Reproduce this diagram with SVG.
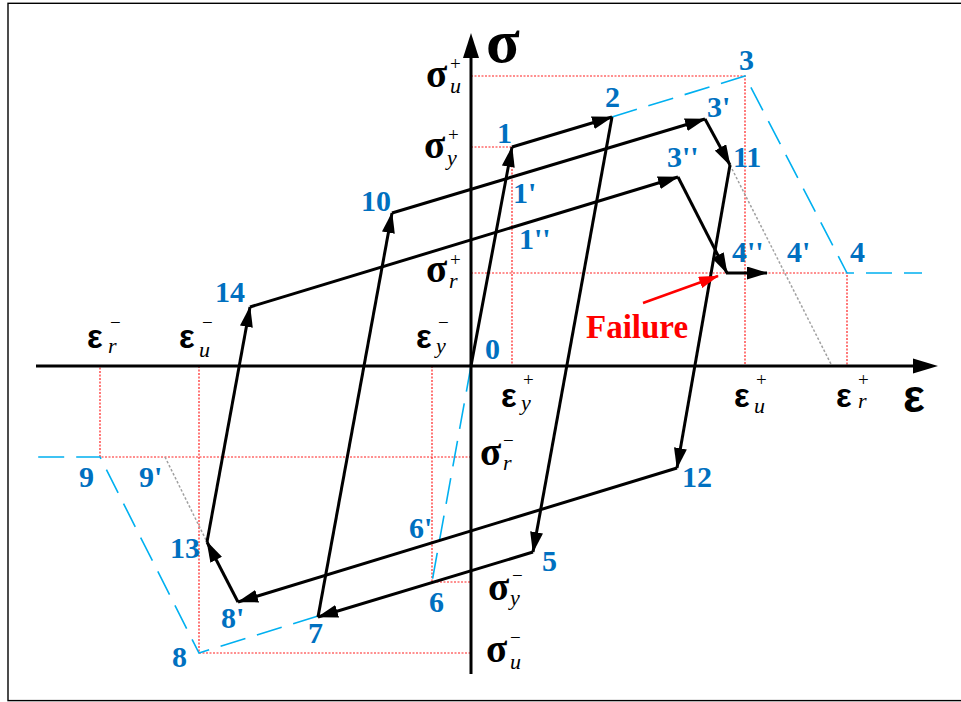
<svg xmlns="http://www.w3.org/2000/svg" width="961" height="702" viewBox="0 0 961 702">
<style>
.lbl{font-family:"Liberation Serif","Times New Roman",serif;font-weight:bold;font-size:30px;fill:#0070C0}
.gk{font-family:"Liberation Serif","Times New Roman",serif;font-weight:bold;font-size:39px;fill:#000}
.ge{font-family:"Liberation Sans",Arial,sans-serif;font-weight:bold;font-size:33px;fill:#000}
.sp{font-family:"Liberation Serif","Times New Roman",serif;font-size:19px;fill:#000}
.sb{font-family:"Liberation Serif","Times New Roman",serif;font-style:italic;font-size:22px;fill:#000}
.ax{font-family:"Liberation Serif","Times New Roman",serif;font-weight:bold;fill:#000}
.red{stroke:#FF2020;stroke-width:1.2;stroke-dasharray:2 1.5;fill:none}
.blue{stroke:#00B0F0;stroke-width:1.6;stroke-dasharray:26 12;fill:none}
.gray{stroke:#A0A0A0;stroke-width:1.5;stroke-dasharray:2.5 2;fill:none}
.path{stroke:#000;stroke-width:3;fill:none;marker-end:url(#ah)}
</style>
<defs>
<marker id="ah" markerUnits="userSpaceOnUse" markerWidth="21" markerHeight="13" refX="20" refY="6.5" orient="auto"><path d="M0,0 L21,6.5 L0,13 z" fill="#000"/></marker>
<marker id="rh" markerUnits="userSpaceOnUse" markerWidth="20" markerHeight="12" refX="19" refY="6" orient="auto"><path d="M0,0 L20,6 L0,12 z" fill="#FF0000"/></marker>
</defs>
<rect x="8" y="3.3" width="960" height="697.3" fill="#fff" stroke="#000" stroke-width="1.4"/>

<g id="guides">
<path class="red" d="M471,76 H745 V366"/>
<path class="red" d="M471,147 H512 V366"/>
<path class="red" d="M471,273 H847 V366"/>
<path class="red" d="M471,457 H100 V366"/>
<path class="red" d="M199,366 V653 H471"/>
<path class="red" d="M432,366 V582 H471"/>
<path class="gray" d="M730,165 L832,366"/>
<path class="gray" d="M165,457 L207,542"/>
</g>

<g id="envelope">
<path class="blue" d="M612,117 L745,76 L847,273 H922"/>
<path class="blue" d="M471,366 L432,582"/>
<path class="blue" d="M318,616 L199,653 L100,457 H37"/>
</g>

<g id="axes">
<line x1="36" y1="366" x2="915" y2="366" stroke="#000" stroke-width="3"/>
<path d="M913,358.5 L938,366 L913,373.5 z" fill="#000"/>
<line x1="471" y1="674" x2="471" y2="56" stroke="#000" stroke-width="3"/>
<path d="M463,58 L471,33 L479,58 z" fill="#000"/>
<text class="ax" x="486" y="62" font-size="62">σ</text>
<text font-family="Liberation Sans,Arial,sans-serif" font-weight="bold" x="903" y="412" font-size="46">ε</text>
</g>

<g id="connectors">
<line class="path" x1="471" y1="366" x2="512" y2="147"/>
<line class="path" x1="512" y1="147" x2="612" y2="117"/>
<line class="path" x1="612" y1="117" x2="533" y2="552"/>
<line class="path" x1="533" y1="552" x2="318" y2="617"/>
<line class="path" x1="318" y1="617" x2="392" y2="213"/>
<line class="path" x1="392" y1="213" x2="705" y2="119"/>
<line class="path" x1="705" y1="119" x2="730" y2="165"/>
<line class="path" x1="730" y1="165" x2="677" y2="468"/>
<line class="path" x1="677" y1="468" x2="238" y2="602"/>
<line class="path" x1="238" y1="602" x2="207" y2="542"/>
<line class="path" x1="207" y1="542" x2="250" y2="307"/>
<line class="path" x1="250" y1="307" x2="678" y2="177"/>
<line class="path" x1="678" y1="177" x2="727" y2="273"/>
<line class="path" x1="726" y1="273" x2="767" y2="273"/>
<line x1="643" y1="303" x2="718" y2="276" stroke="#FF0000" stroke-width="2.5" marker-end="url(#rh)"/>
</g>

<g id="failure"><text x="586" y="338" font-family="Liberation Serif,Times New Roman,serif" font-weight="bold" font-size="33" fill="#FF0000">Failure</text></g>

<g id="node-0"><text class="lbl" x="485" y="359">0</text></g>
<g id="node-1"><text class="lbl" x="497" y="143">1</text></g>
<g id="node-1p"><text class="lbl" x="513" y="203">1'</text></g>
<g id="node-1pp"><text class="lbl" x="519" y="249">1''</text></g>
<g id="node-2"><text class="lbl" x="605" y="107">2</text></g>
<g id="node-3"><text class="lbl" x="739" y="70">3</text></g>
<g id="node-3p"><text class="lbl" x="707" y="117">3'</text></g>
<g id="node-3pp"><text class="lbl" x="667" y="167">3''</text></g>
<g id="node-11"><text class="lbl" x="733" y="167">11</text></g>
<g id="node-4pp"><text class="lbl" x="732" y="262">4''</text></g>
<g id="node-4p"><text class="lbl" x="787" y="262">4'</text></g>
<g id="node-4"><text class="lbl" x="850" y="262">4</text></g>
<g id="node-10"><text class="lbl" x="361" y="211">10</text></g>
<g id="node-14"><text class="lbl" x="215" y="302">14</text></g>
<g id="node-12"><text class="lbl" x="682" y="487">12</text></g>
<g id="node-5"><text class="lbl" x="542" y="571">5</text></g>
<g id="node-6p"><text class="lbl" x="409" y="538">6'</text></g>
<g id="node-6"><text class="lbl" x="429" y="612">6</text></g>
<g id="node-7"><text class="lbl" x="308" y="643">7</text></g>
<g id="node-8p"><text class="lbl" x="221" y="628">8'</text></g>
<g id="node-8"><text class="lbl" x="172" y="667">8</text></g>
<g id="node-13"><text class="lbl" x="170" y="558">13</text></g>
<g id="node-9"><text class="lbl" x="79" y="487">9</text></g>
<g id="node-9p"><text class="lbl" x="139" y="487">9'</text></g>

<g id="sigma-u-plus"><text class="gk" x="426" y="87">σ</text><text class="sp" x="450" y="70">+</text><text class="sb" x="450" y="93">u</text></g>
<g id="sigma-y-plus"><text class="gk" x="424" y="158">σ</text><text class="sp" x="448" y="141">+</text><text class="sb" x="447" y="165">y</text></g>
<g id="sigma-r-plus"><text class="gk" x="426" y="282">σ</text><text class="sp" x="450" y="266">+</text><text class="sb" x="449" y="288">r</text></g>
<g id="sigma-r-minus"><text class="gk" x="480" y="465">σ</text><text class="sp" x="503" y="447">−</text><text class="sb" x="503" y="470">r</text></g>
<g id="sigma-y-minus"><text class="gk" x="488" y="600">σ</text><text class="sp" x="512" y="582">−</text><text class="sb" x="510" y="605">y</text></g>
<g id="sigma-u-minus"><text class="gk" x="486" y="662">σ</text><text class="sp" x="510" y="644">−</text><text class="sb" x="510" y="669">u</text></g>

<g id="eps-r-minus"><text class="ge" x="87" y="348">ε</text><text class="sp" x="110" y="329">−</text><text class="sb" x="108" y="353">r</text></g>
<g id="eps-u-minus"><text class="ge" x="179" y="348">ε</text><text class="sp" x="202" y="329">−</text><text class="sb" x="199" y="357">u</text></g>
<g id="eps-y-minus"><text class="ge" x="416" y="348">ε</text><text class="sp" x="438" y="329">−</text><text class="sb" x="436" y="353">y</text></g>
<g id="eps-y-plus"><text class="ge" x="501" y="407">ε</text><text class="sp" x="523" y="386">+</text><text class="sb" x="521" y="410">y</text></g>
<g id="eps-u-plus"><text class="ge" x="734" y="407">ε</text><text class="sp" x="756" y="386">+</text><text class="sb" x="754" y="413">u</text></g>
<g id="eps-r-plus"><text class="ge" x="836" y="407">ε</text><text class="sp" x="858" y="386">+</text><text class="sb" x="858" y="408">r</text></g>
</svg>
